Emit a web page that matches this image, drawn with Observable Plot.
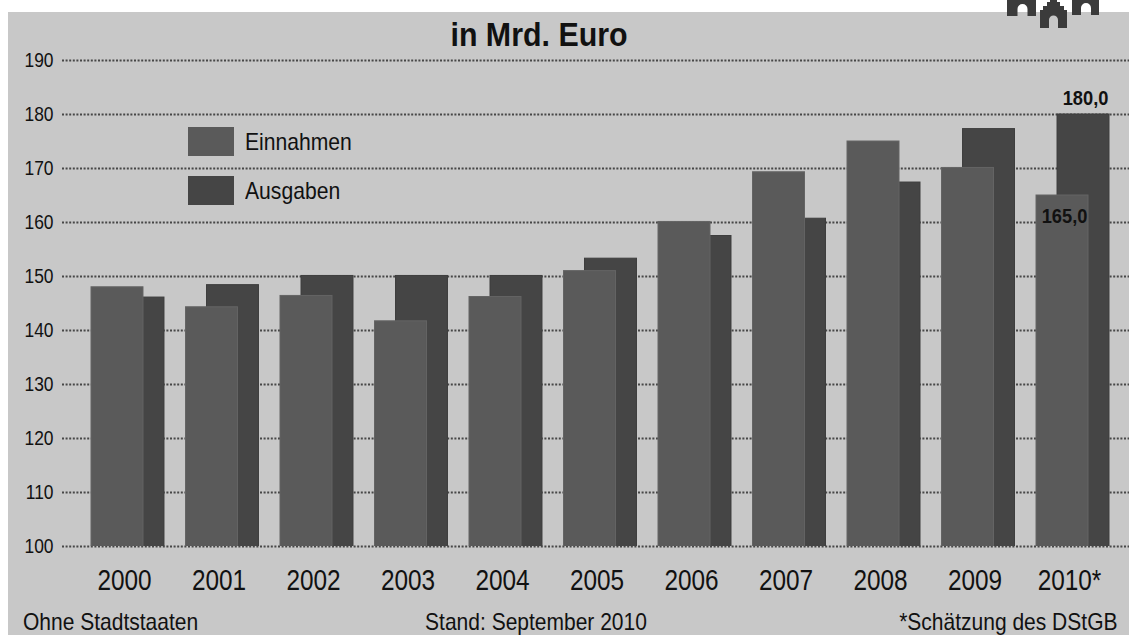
<!DOCTYPE html>
<html>
<head>
<meta charset="utf-8">
<script src="https://cdn.jsdelivr.net/npm/d3@7"></script>
<script src="https://cdn.jsdelivr.net/npm/@observablehq/plot@0.6"></script>
<style>
  html, body { margin: 0; padding: 0; background: #ffffff; }
  body { width: 1129px; height: 635px; overflow: hidden; position: relative;
         font-family: "Liberation Sans", Arial, Helvetica, sans-serif; color: #111; }
  #bg { position: absolute; left: 8px; top: 12px; width: 1121px; height: 623px; background: #c8c8c8; }
  #logo { position: absolute; left: 1000px; top: 0; }
  #chart { position: absolute; left: 0; top: 0; }
  .t { position: absolute; line-height: 0; white-space: nowrap; }
  #title { left: 538.5px; top: 35px; transform: translateX(-50%) scaleX(0.92); font-weight: bold; font-size: 33px; }
  .sw { position: absolute; left: 188px; width: 46px; height: 29px; }
  .lg { left: 245px; font-size: 24px; transform: scaleX(0.88); transform-origin: left center; }
  .ft { font-size: 24px; top: 622px; }
  .ftl { left: 23px; transform: scaleX(0.875); transform-origin: left center; }
  .ftc { left: 535.5px; transform: translateX(-50%) scaleX(0.875); }
  .ftr { right: 12px; transform: scaleX(0.875); transform-origin: right center; }
</style>
</head>
<body>
<div id="bg"></div>
<svg id="logo" width="110" height="30" viewBox="0 0 110 30">
  <g fill="#3b3b3b">
    <path d="M7,0 H36 V16 H27.5 V9 A5,5 0 0 0 17.5,9 V16 H7 Z"/>
    <path d="M40,28 V10 H43 V6 H47 V2 H50 V0 H57 V2 H60 V6 H64 V10 H67 V28 H58 V20 A4.5,4.5 0 0 0 49,20 V28 Z"/>
    <path d="M72,0 H99 V15 H91 V8 A5,5 0 0 0 81,8 V15 H72 Z"/>
  </g>
</svg>
<div id="chart"></div>
<div class="t" id="title">in Mrd. Euro</div>
<div class="sw" style="top:127px;background:#5a5a5a"></div>
<div class="sw" style="top:176px;background:#454545"></div>
<div class="t lg" style="top:142px">Einnahmen</div>
<div class="t lg" style="top:191px">Ausgaben</div>
<div class="t ft ftl">Ohne Stadtstaaten</div>
<div class="t ft ftc">Stand: September 2010</div>
<div class="t ft ftr">*Schätzung des DStGB</div>
<script>
// ---- data (Mrd. Euro) ----
const years = ["2000","2001","2002","2003","2004","2005","2006","2007","2008","2009","2010"];
const einnahmen = [148.0, 144.3, 146.4, 141.7, 146.2, 151.0, 160.1, 169.3, 175.0, 170.1, 165.0];
const ausgaben  = [146.1, 148.4, 150.1, 150.1, 150.1, 153.3, 157.5, 160.7, 167.4, 177.3, 180.0];
const yTicks = [100, 110, 120, 130, 140, 150, 160, 170, 180, 190];
const yearLabels = {"2010": "2010*"};
const labelledYears = ["2010"];

const data = years.map((year, i) => ({year, einnahmen: einnahmen[i], ausgaben: ausgaben[i]}));
const labelled = data.filter(d => labelledYears.includes(d.year));
const fmt = v => v.toFixed(1).replace(".", ",");

const chart = Plot.plot({
  width: 1129,
  height: 635,
  marginLeft: 62,
  marginRight: 0,
  marginTop: 60,
  marginBottom: 89,
  style: {background: "transparent", color: "#111", fontFamily: '"Liberation Sans", Arial, sans-serif', overflow: "visible"},
  x: {type: "band", domain: years, range: [91, 1088], paddingInner: 0.45, paddingOuter: 0, round: false},
  y: {domain: [100, 190]},
  marks: [
    Plot.ruleY(yTicks, {stroke: "#474747", strokeWidth: 2, strokeDasharray: "2,1.6"}),
    Plot.barY(data, {x: "year", y: "ausgaben", fill: "#454545", stroke: "#3e3e3e", strokeWidth: 1, dx: 21, clip: true}),
    Plot.barY(data, {x: "year", y: "einnahmen", fill: "#5a5a5a", stroke: "#646464", strokeWidth: 1, clip: true}),
    Plot.text(labelled, {x: "year", y: "ausgaben", text: d => fmt(d.ausgaben), dx: 23, dy: -10, lineAnchor: "bottom",
      fontWeight: "bold", fontSize: 21, fill: "#111", className: "cond87"}),
    Plot.text(labelled, {x: "year", y: "einnahmen", text: d => fmt(d.einnahmen), dx: 2, dy: 13, lineAnchor: "top",
      fontWeight: "bold", fontSize: 21, fill: "#111", className: "cond87"}),
    Plot.axisY(yTicks, {anchor: "left", tickSize: 0, tickPadding: 9, fontSize: 20, label: null, className: "cond87"}),
    Plot.axisX({anchor: "bottom", tickSize: 0, tickPadding: 23, fontSize: 29, dx: 7, label: null, className: "cond84",
      tickFormat: d => yearLabels[d] ?? d})
  ]
});
document.getElementById("chart").appendChild(chart);

// condense SVG text horizontally (the original uses a narrow grotesque)
function condense(selector, factor) {
  chart.querySelectorAll(selector).forEach(t => {
    const len = t.getComputedTextLength();
    if (len > 0) {
      t.setAttribute("textLength", (len * factor).toFixed(2));
      t.setAttribute("lengthAdjust", "spacingAndGlyphs");
    }
  });
}
condense("[class*=cond87] text", 0.87);
condense("[class*=cond84] text", 0.84);
</script>
</body>
</html>
